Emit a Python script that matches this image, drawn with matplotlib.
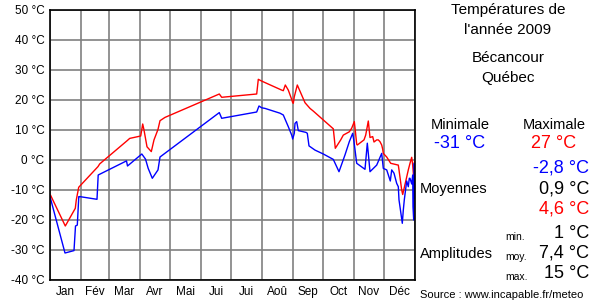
import matplotlib
matplotlib.use("Agg")
import matplotlib.pyplot as plt

plt.rcParams['font.family'] = ['Liberation Sans', 'DejaVu Sans']

# daily max (red) and min (blue), day of year
max_days = [0.5, 15.3, 25.3, 26.3, 28.7, 48, 49.7, 77, 79.7, 90.7, 92.7, 94, 97, 101.3, 104, 108, 110,
            115, 169.3, 171.7, 206.7, 208.3, 211.7, 231.7, 233.3, 235.3, 238.3, 241.7, 242.7, 243.3,
            244.3, 247.3, 255, 260, 263.3, 283.3, 284.3, 285.3, 290.7, 293.3, 299.3, 301.7, 304.3,
            305.3, 306.7, 307.3, 314, 315.7, 318.3, 320, 322.7, 324, 326.7, 328.3, 330, 331.7, 332.7,
            333.3, 336.7, 340.7, 348.3, 349, 351.7, 352.7, 356, 358.3, 360, 361.7, 362.7, 364, 364.5, 365]
max_temps = [-11.7, -22, -16.1, -13.3, -9.1, -2.2, -1.3, 6.4, 7.2, 8, 12, 10, 4.4, 2.8, 6.7, 10.2, 13.1,
             14.2, 22, 20.9, 22, 26.9, 26.3, 23.3, 23.1, 25, 23.3, 20.2, 19.1, 18.9,
             21.1, 25, 19.1, 17.2, 16.3, 10.4, 7.2, 3.9, 6.7, 8.3, 9.4, 10.6, 12.8,
             9.8, 5.3, 5, 6.7, 8.3, 13, 7.5, 7.8, 6, 6.7, 6.7, 6.1, 5, 3.6,
             2.2, 1, -1.1, -1.7, -3.3, -10, -11.5, -6.7, -3.3, -1.1, 0.9, -1.7, -7.2, -0.6, -2]

min_days = [0, 15, 24, 25.5, 27.3, 28.8, 29.7, 47, 48.2, 76.5, 77.5, 91.8, 95.5, 98.2, 102.3, 108, 110,
            169.3, 171.7, 206.7, 209, 211.7, 215, 230, 233.3, 238.3, 241.7, 242.7, 244.3, 245, 246.7,
            248.3, 256, 257.3, 259, 265, 273.3, 283.3, 289, 295, 299.3, 302.7, 304, 306.7, 315, 317.3,
            318.3, 320, 326.7, 331.7, 333.3, 336.7, 340.3, 341.7, 344, 346.7, 348.3, 349, 350, 352.3,
            353.3, 354.3, 356.7, 358.3, 359.3, 360, 361.7, 362.7, 363, 363.7, 364.3, 365]
min_temps = [-12.2, -31, -30.2, -22, -21.7, -12.2, -12.2, -13.1, -5, -0.3, -2, 2, 0.3, -2.8, -6.1, -3.3, 1,
             15.8, 13.9, 16, 18, 17.4, 17.2, 15.6, 15, 11.1, 8.3, 7, 8.9, 12.2, 12.8,
             9.8, 9.2, 8.9, 4.7, 3.3, 2, 0.2, -3.9, 1.7, 6.1, 8.9, 6.1, -1.1, -3.1, 5.6,
             2.2, -3.9, -1.7, 2.2, -2.8, -3.3, -7, -3.3, -4.4, -7.8, -8.9, -13.3, -15.6, -21.1,
             -16.7, -13.3, -7, -8.9, -6.1, -6.1, -8, -5, -15.6, -20, -1.1, -12.8]

month_starts = [0, 31, 59, 90, 120, 151, 181, 212, 243, 273, 304, 334, 365]
month_labels = ['Jan', 'Fév', 'Mar', 'Avr', 'Mai', 'Jui', 'Jui', 'Aoû', 'Sep', 'Oct', 'Nov', 'Déc']
y_ticks = list(range(-40, 51, 10))

W, H = 600, 300
fig = plt.figure(figsize=(6, 3), dpi=100)
ax = fig.add_axes([50 / W, 20 / H, 365 / W, 270 / H])

ax.plot(max_days, max_temps, color='#ff0000', lw=1)
ax.plot(min_days, min_temps, color='#0000ff', lw=1)

ax.set_xlim(0, 365)
ax.set_ylim(-40, 50)
ax.set_yticks(y_ticks)
ax.set_yticklabels([f'{t} °C' for t in y_ticks], fontsize=8.5)
ax.set_xticks(month_starts)
ax.set_xticklabels([])
ax.set_xticks([(month_starts[i] + month_starts[i + 1]) / 2 for i in range(12)], minor=True)
ax.set_xticklabels(month_labels, minor=True, fontsize=8.5)
ax.tick_params(axis='both', which='both', length=0, pad=4)
ax.grid(True, which='major', color='#808080', lw=1.2)
ax.set_axisbelow(True)
for s in ax.spines.values():
    s.set_color('black')
    s.set_linewidth(1.2)


def t(x, y, s, **kw):
    fig.text(x / W, 1 - y / H, s, va='center', **kw)


t(508, 10, 'Températures de', ha='center', fontsize=11)
t(508, 30, "l'année 2009", ha='center', fontsize=11)
t(508, 58, 'Bécancour', ha='center', fontsize=11)
t(508, 78, 'Québec', ha='center', fontsize=11)

t(460, 125, 'Minimale', ha='center', fontsize=10.5)
t(554, 125, 'Maximale', ha='center', fontsize=10.5)
t(460, 143, '-31 °C', ha='center', fontsize=13, color='#0000ff')
t(554, 143, '27 °C', ha='center', fontsize=13, color='#ff0000')

t(420, 189, 'Moyennes', ha='left', fontsize=10.5)
t(589, 168, '-2,8 °C', ha='right', fontsize=13, color='#0000ff')
t(589, 189, '0,9 °C', ha='right', fontsize=13, color='black')
t(589, 209, '4,6 °C', ha='right', fontsize=13, color='#ff0000')

t(420, 254, 'Amplitudes', ha='left', fontsize=10.5)
t(505, 237, 'min.', ha='left', fontsize=7.5)
t(505, 257, 'moy.', ha='left', fontsize=7.5)
t(505, 277, 'max.', ha='left', fontsize=7.5)
t(589, 233, '1 °C', ha='right', fontsize=13, color='black')
t(589, 253, '7,4 °C', ha='right', fontsize=13, color='black')
t(589, 273, '15 °C', ha='right', fontsize=13, color='black')

t(420, 295, 'Source : www.incapable.fr/meteo', ha='left', fontsize=8)

fig.savefig('out.png', dpi=100, facecolor='white')
